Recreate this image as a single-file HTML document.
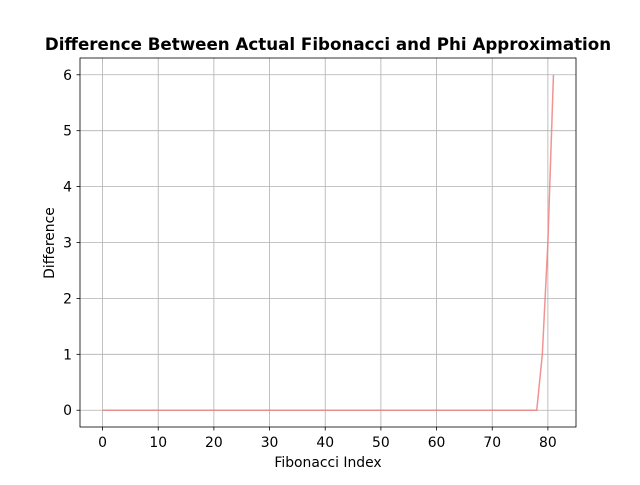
<!DOCTYPE html>
<html><head><meta charset="utf-8"><style>body{margin:0;background:#fff}text{font-family:"DejaVu Sans","Liberation Sans",sans-serif}</style></head>
<body>
<svg id="chart" width="640" height="480" xmlns="http://www.w3.org/2000/svg">
<rect width="640" height="480" fill="#fff"/>
<g id="grid"></g>
<g id="ticks"></g>
<rect x="80" y="58" width="496" height="369" fill="none" stroke="#000" stroke-width="0.8"/>
<text x="328" y="50" text-anchor="middle" font-size="16.7" font-weight="bold">Difference Between Actual Fibonacci and Phi Approximation</text>
<text x="328" y="467" text-anchor="middle" font-size="13.9">Fibonacci Index</text>
<text x="54" y="243" text-anchor="middle" font-size="13.9" transform="rotate(-90 54 243)">Difference</text>
</svg>
<script>
const xTicks=[0,10,20,30,40,50,60,70,80];
const yTicks=[0,1,2,3,4,5,6];
const indices=[];for(let i=0;i<=81;i++)indices.push(i);
const diffs=[];for(let i=0;i<=78;i++)diffs.push(0);
diffs.push(1,3,6);
const X=v=>80+(v+4.05)/89.1*496;
const Y=v=>427-(v+0.3)/6.6*369;
const ns="http://www.w3.org/2000/svg";
const grid=document.getElementById('grid'),ticks=document.getElementById('ticks'),svg=document.getElementById('chart');
function mk(tag,a,p){const e=document.createElementNS(ns,tag);for(const k in a)e.setAttribute(k,a[k]);p.appendChild(e);return e;}
xTicks.forEach(t=>{const x=X(t);
const g=mk('line',{x1:x,x2:x,y1:58,y2:427,stroke:'#b0b0b0','stroke-width':0.8},grid);


mk('line',{x1:x,x2:x,y1:427,y2:430.5,stroke:'#000','stroke-width':0.8},ticks);
const l=mk('text',{x:x,y:447,'text-anchor':'middle','font-size':13.9},ticks);l.textContent=t;

});
yTicks.forEach(t=>{const y=Y(t);
const g=mk('line',{x1:80,x2:576,y1:y,y2:y,stroke:'#b0b0b0','stroke-width':0.8},grid);


mk('line',{x1:76.5,x2:80,y1:y,y2:y,stroke:'#000','stroke-width':0.8},ticks);
const l=mk('text',{x:72,y:y+5,'text-anchor':'end','font-size':13.9},ticks);l.textContent=t;

});
const pl=mk('polyline',{points:indices.map((v,i)=>X(v)+','+Y(diffs[i])).join(' '),fill:'none',stroke:'#f08080','stroke-width':1.5,'stroke-opacity':0.85},svg);


</script>
</body></html>
